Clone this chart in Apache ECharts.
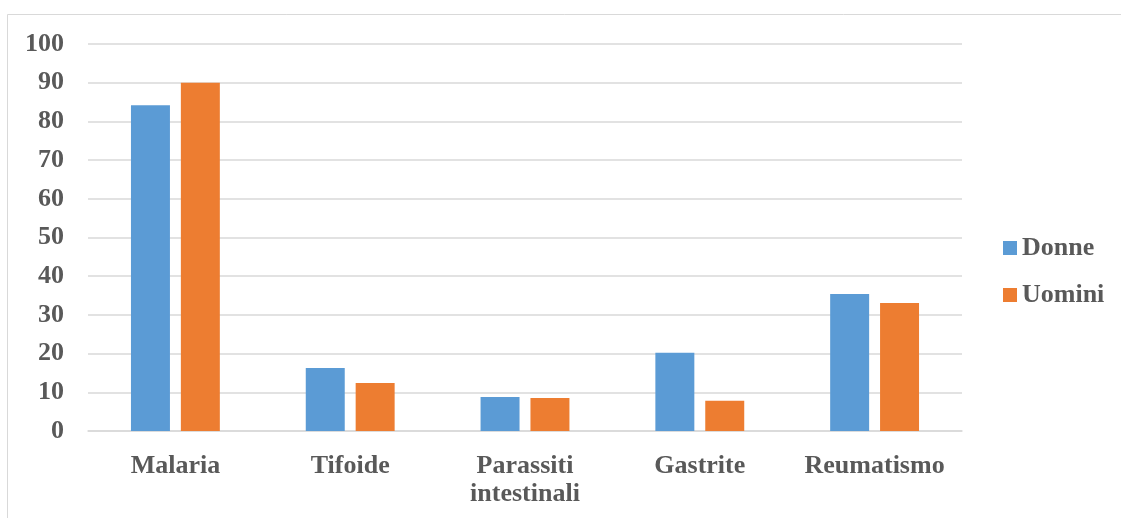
<!DOCTYPE html>
<html>
<head>
<meta charset="utf-8">
<script src="https://cdn.jsdelivr.net/npm/echarts@6/dist/echarts.min.js"></script>
<style>
html,body{margin:0;padding:0;background:#fff;}
#chart{width:1121px;height:518px;}
</style>
</head>
<body>
<div id="chart"></div>
<script>
const categories = ['Malaria', 'Tifoide', 'Parassiti\nintestinali', 'Gastrite', 'Reumatismo'];
const donne = [84.2, 16.3, 8.8, 20.2, 35.4];
const uomini = [90.0, 12.4, 8.5, 7.8, 33.1];
const yTicks = { min: 0, max: 100, interval: 10 };

const font = 'Liberation Serif';
const txt = '#595959';
const chart = echarts.init(document.getElementById('chart'));
chart.setOption({
  animation: false,
  backgroundColor: '#fff',
  graphic: [{
    type: 'rect', silent: true,
    shape: { x: 7.5, y: 14.5, width: 1200, height: 600 },
    style: { fill: 'none', stroke: '#d9d9d9', lineWidth: 1 }
  }],
  grid: { left: 88, right: 159, top: 44, bottom: 87, containLabel: false },
  legend: {
    orient: 'vertical', left: 1003, top: 235, padding: 0,
    itemWidth: 14, itemHeight: 14, itemGap: 21,
    icon: 'rect',
    textStyle: { fontFamily: font, fontWeight: 'bold', fontSize: 26, color: txt, lineHeight: 26, padding: [0,0,0,0] },
    data: ['Donne', 'Uomini']
  },
  xAxis: {
    type: 'category', data: categories,
    axisLine: { lineStyle: { color: '#d9d9d9', width: 1.5 } },
    axisTick: { show: false },
    axisLabel: { fontFamily: font, fontWeight: 'bold', fontSize: 26, color: txt, lineHeight: 28, margin: 21, interval: 0 }
  },
  yAxis: {
    type: 'value', min: yTicks.min, max: yTicks.max, interval: yTicks.interval,
    axisLine: { show: false }, axisTick: { show: false },
    splitLine: { lineStyle: { color: '#d9d9d9', width: 1.5 } },
    axisLabel: { fontFamily: font, fontWeight: 'bold', fontSize: 26, color: txt, margin: 24 }
  },
  series: [
    { name: 'Donne', type: 'bar', data: donne, barWidth: '22.3%', barGap: '28%', itemStyle: { color: '#5b9bd5' } },
    { name: 'Uomini', type: 'bar', data: uomini, barWidth: '22.3%', barGap: '28%', itemStyle: { color: '#ed7d31' } }
  ]
});
</script>
</body>
</html>
